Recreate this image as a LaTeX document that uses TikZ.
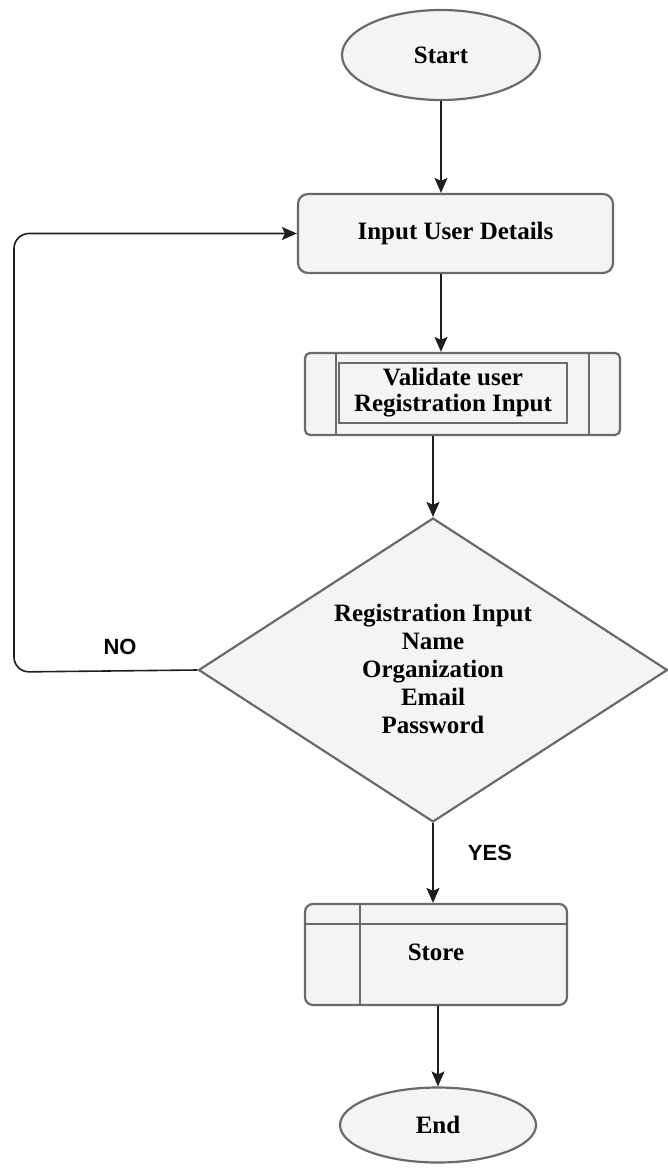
\documentclass[tikz,border=0pt]{standalone}
\usepackage{fontspec}
\setmainfont{Liberation Serif}
\setsansfont{Liberation Sans}
\usetikzlibrary{arrows.meta,shapes.geometric}

\definecolor{boxfill}{HTML}{F4F4F4}
\definecolor{boxline}{HTML}{6A6A6A}
\definecolor{arrowline}{HTML}{1E1E1E}

\tikzset{
  boxtext/.style={font=\fontsize{25}{26}\selectfont\bfseries, align=center},
  shapebase/.style={draw=boxline, fill=boxfill, line width=2.2pt, inner sep=0pt, boxtext},
  terminal/.style={shapebase, ellipse},
  procbox/.style={shapebase, rectangle, rounded corners=10pt},
  subproc/.style={shapebase, rectangle, rounded corners=5pt},
  storebox/.style={shapebase, rectangle, rounded corners=8pt},
  decision/.style={shapebase, diamond},
  edgelabel/.style={font=\sffamily\bfseries\fontsize{22}{24}\selectfont, inner sep=0pt},
  arr/.style={draw=arrowline, line width=1.6pt,
    -{Stealth[length=15pt,width=13pt,inset=3pt]}},
}

\begin{document}
\begin{tikzpicture}[x=1pt,y=-1pt]
\useasboundingbox (0,0) rectangle (668,1169);

% terminals
\node[terminal, minimum width=198pt, minimum height=90pt] (start) at (441,55) {Start};
\node[terminal, minimum width=196pt, minimum height=75pt] (end) at (438,1125) {End};

% input step
\node[procbox, minimum width=315pt, minimum height=79pt] (input) at (455.5,233.5) {Input User Details};

% predefined process: validation
\node[subproc, minimum width=315pt, minimum height=82pt] (val) at (462.5,394) {};
\draw[boxline, line width=2.2pt] ([xshift=32pt]val.north west) -- ([xshift=32pt]val.south west);
\draw[boxline, line width=2.2pt] ([xshift=-32pt]val.north east) -- ([xshift=-32pt]val.south east);
\node[shapebase, line width=1.3pt, minimum width=228pt, minimum height=60pt] (valtext)
  at (453,393) {Validate user\\Registration Input};

% decision (outline sized directly, text placed on top)
\node[decision, minimum width=469pt, minimum height=304pt] (dia) at (433,670) {};
\node[boxtext, font=\fontsize{25}{28}\selectfont\bfseries, inner sep=0pt] (diatext) at (433,669)
  {Registration Input\\Name\\Organization\\Email\\Password};

% storage step
\node[storebox, minimum width=262pt, minimum height=101pt] (store) at (436,954.5) {};
\draw[boxline, line width=2.2pt] ([xshift=56pt]store.north west) -- ([xshift=56pt]store.south west);
\draw[boxline, line width=2.2pt] ([yshift=-21pt]store.north west) -- ([yshift=-21pt]store.north east);
\node[boxtext, inner sep=0pt] (storetext) at (436,952) {Store};

% connectors
\draw[arr] (start.south) -- (start.south |- input.north);
\draw[arr] (start.south |- input.south) -- (start.south |- val.north);
\draw[arr] (dia.north |- val.south) -- (dia.north);
\draw[arr] (dia.south) -- (dia.south |- store.north);
\draw[arr] (end.north |- store.south) -- (end.north);

% loop back on failure
\coordinate (loopbottom) at (14,672);
\coordinate (looptop) at (14,233.5);
\draw[arr, rounded corners=15pt] (dia.west) -- (loopbottom) -- (looptop) -- (input.west);

% branch labels
\node[edgelabel] (nolabel) at (120,647) {NO};
\node[edgelabel] (yeslabel) at (490,853) {YES};
\end{tikzpicture}
\end{document}
